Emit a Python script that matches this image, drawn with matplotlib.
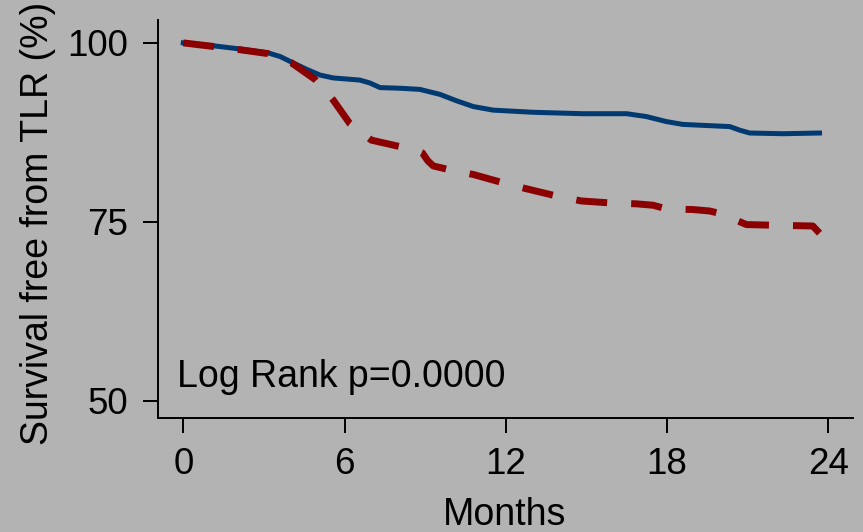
import matplotlib
matplotlib.use("Agg")
import matplotlib.pyplot as plt

plt.rcParams['font.family'] = ['Liberation Sans', 'DejaVu Sans']
plt.rcParams['lines.scale_dashes'] = False

# Data (months, survival %)
blue_months = [0, 1.1, 2.0, 3.16, 3.6, 4.09, 4.59, 5.09, 5.58, 6.57, 6.94, 7.32, 8.06, 8.8,
               9.55, 10.17, 10.79, 11.53, 13.01, 14.87, 16.49, 17.23, 17.97, 18.59,
               20.33, 20.7, 21.07, 22.31, 23.67]
blue_surv = [100, 99.6, 99.2, 98.6, 98.1, 97.2, 96.3, 95.5, 95.1, 94.8, 94.4, 93.75, 93.66, 93.5,
             92.8, 91.9, 91.1, 90.6, 90.3, 90.1, 90.1, 89.7, 89.0, 88.6,
             88.3, 87.8, 87.4, 87.3, 87.4]

red_months = [0, 1.12, 2.0, 3.16, 4.03, 4.9, 5.58, 6.2, 7.0, 8.06, 8.5, 8.9, 9.1, 9.3, 9.86,
              10.79, 11.84, 12.77, 13.88, 14.81, 15.99, 16.86, 17.48, 17.97, 18.96,
              19.58, 20.02, 20.95, 22.06, 23.42, 23.67]
red_surv = [100, 99.5, 99.1, 98.5, 97.2, 94.9, 92.0, 88.7, 86.4, 85.5, 85.3, 84.6, 83.5, 82.8, 82.3,
            81.6, 80.5, 79.6, 78.6, 77.9, 77.6, 77.5, 77.3, 76.8, 76.7,
            76.5, 76.1, 74.6, 74.5, 74.4, 73.4]

x_ticks = [0, 6, 12, 18, 24]
y_ticks = [50, 75, 100]

bg = '#b3b3b3'
fig = plt.figure(figsize=(8.63, 5.32), dpi=100, facecolor=bg)
ax = fig.add_axes([158/863, 1 - 417.7/532, (852.6 - 158)/863, (417.7 - 20)/532])
ax.set_facecolor(bg)

ax.plot(blue_months, blue_surv, color='#003a70', lw=3.6, solid_joinstyle='round')
ax.plot(red_months, red_surv, color='#8b0000', lw=5, linestyle=(0, (22.3, 17.3)),
        dash_capstyle='butt', dash_joinstyle='round')

ax.set_xlim(-0.94, 24.9)
ax.set_ylim(47.6, 103.2)
ax.set_xticks(x_ticks)
ax.set_yticks(y_ticks)
ax.set_xticklabels([str(v) for v in x_ticks])
ax.set_yticklabels([str(v) for v in y_ticks])

for s in ['top', 'right']:
    ax.spines[s].set_visible(False)
for s in ['left', 'bottom']:
    ax.spines[s].set_linewidth(1.4)
    ax.spines[s].set_color('black')

ax.tick_params(axis='both', direction='out', length=10.8, width=1.4, labelsize=26.5, color='black')
ax.tick_params(axis='x', pad=10)
ax.tick_params(axis='y', pad=11)

ax.text(-0.23, 51.9, 'Log Rank p=0.0000', fontsize=27, va='baseline', ha='left')

fig.text(38/863, 1 - 223/532, 'Survival free from TLR (%)', rotation=90,
         ha='center', va='center', fontsize=27)
fig.text(505/863, 1 - 525/532, 'Months', ha='center', va='baseline', fontsize=27)

fig.savefig('out.png', dpi=100, facecolor=bg)
